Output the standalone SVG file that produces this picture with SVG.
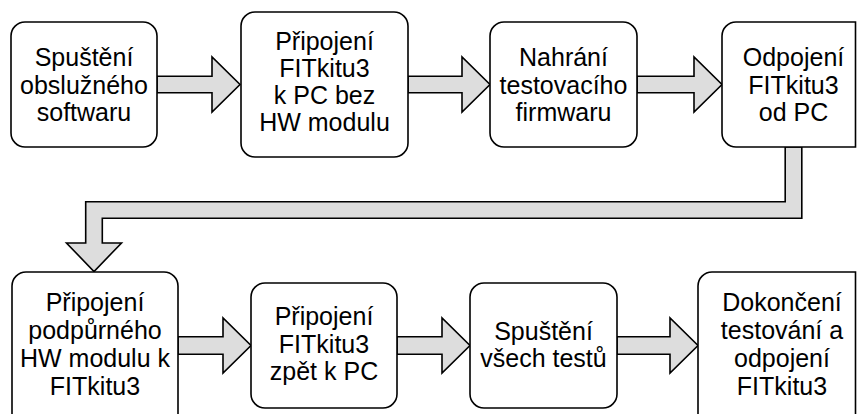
<svg xmlns="http://www.w3.org/2000/svg" width="857" height="414" viewBox="0 0 857 414">
<style>
.box{fill:#ffffff;stroke:#000000;stroke-width:1.6}
.arr{fill:#dddddd;stroke:#000000;stroke-width:1.6;stroke-linejoin:miter}
text{font-family:"Liberation Sans",Arial,Helvetica,sans-serif;font-size:25px;fill:#000000;text-anchor:middle}
</style>
<rect x="0" y="0" width="857" height="414" fill="#ffffff"/>
<g id="connectors">
<path class="arr" d="M157,76.2 H212 V57 L240,84.5 L212,112 V92.8 H157 Z"/>
<path class="arr" d="M408,76.2 H462 V57 L490,84.5 L462,112 V92.8 H408 Z"/>
<path class="arr" d="M637,76.2 H694 V57 L722,84.5 L694,112 V92.8 H637 Z"/>
<path class="arr" d="M785.2,147 V201.7 H85.7 V243 H66.5 L94,271.5 L121.5,243 H102.3 V218.3 H801.8 V147 Z"/>
<path class="arr" d="M178,336.7 H223 V318 L251,345.5 L223,373 V354.3 H178 Z"/>
<path class="arr" d="M397,336.7 H442 V318 L470,345.5 L442,373 V354.3 H397 Z"/>
<path class="arr" d="M617,336.7 H670 V318 L698,345.5 L670,373 V354.3 H617 Z"/>
</g>
<g id="n1">
<rect class="box" x="11" y="22" width="146" height="125" rx="14"/>
<text x="84" y="66">Spuštění</text>
<text x="84" y="93.5">obslužného</text>
<text x="84" y="121">softwaru</text>
</g>
<g id="n2">
<rect class="box" x="241" y="12" width="167" height="145" rx="14"/>
<text x="324.5" y="50">Připojení</text>
<text x="324.5" y="77">FITkitu3</text>
<text x="324.5" y="104">k PC bez</text>
<text x="324.5" y="131">HW modulu</text>
</g>
<g id="n3">
<rect class="box" x="490" y="22" width="147" height="125" rx="14"/>
<text x="563.5" y="66">Nahrání</text>
<text x="563.5" y="93.5">testovacího</text>
<text x="563.5" y="121">firmwaru</text>
</g>
<g id="n4">
<path class="box" d="M722,36 A14,14 0 0 1 736,22 H855.5 V147 H736 A14,14 0 0 1 722,133 Z"/>
<text x="793.5" y="66">Odpojení</text>
<text x="793.5" y="93.5">FITkitu3</text>
<text x="793.5" y="121">od PC</text>
</g>
<g id="n5">
<rect class="box" x="12" y="272" width="166" height="160" rx="14"/>
<text x="95" y="311">Připojení</text>
<text x="95" y="339">podpůrného</text>
<text x="95" y="367">HW modulu k</text>
<text x="95" y="395">FITkitu3</text>
</g>
<g id="n6">
<rect class="box" x="251" y="283" width="146" height="125" rx="14"/>
<text x="324" y="325">Připojení</text>
<text x="324" y="352.5">FITkitu3</text>
<text x="324" y="380">zpět k PC</text>
</g>
<g id="n7">
<rect class="box" x="470" y="283" width="147" height="125" rx="14"/>
<text x="543.5" y="339.5">Spuštění</text>
<text x="543.5" y="366.5">všech testů</text>
</g>
<g id="n8">
<path class="box" d="M698,440 V286 A14,14 0 0 1 712,272 H855.5 V440"/>
<text x="782" y="311">Dokončení</text>
<text x="782" y="339">testování a</text>
<text x="782" y="367">odpojení</text>
<text x="782" y="395">FITkitu3</text>
</g>
</svg>
